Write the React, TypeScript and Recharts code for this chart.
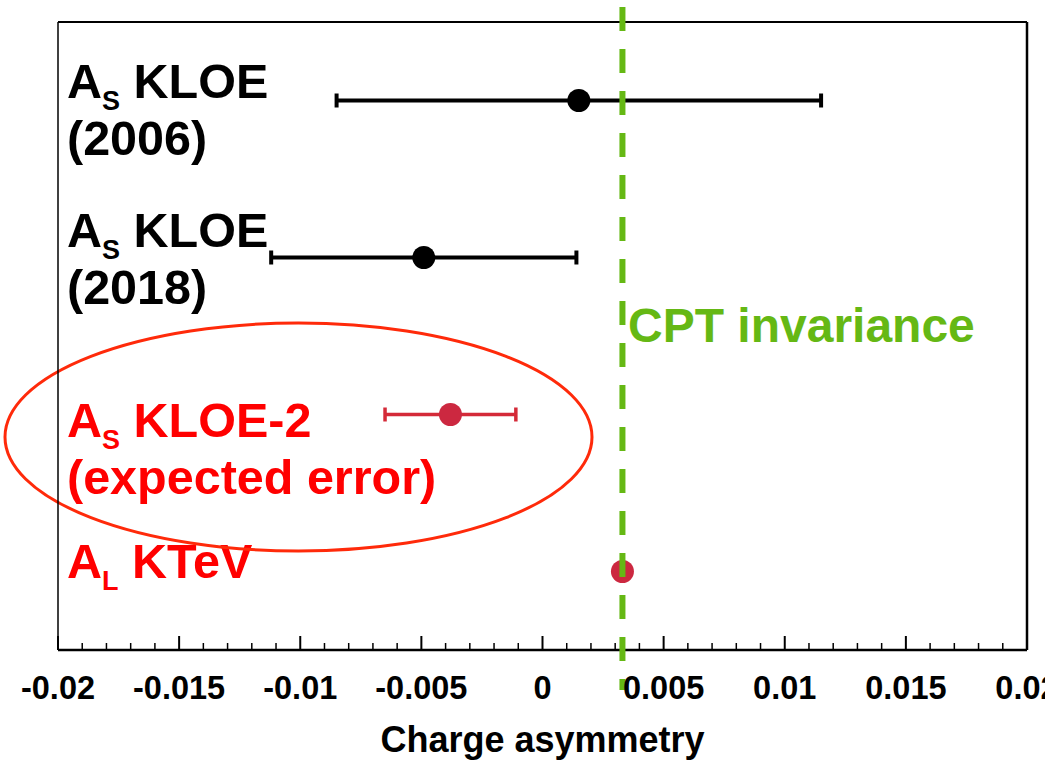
import React from 'react';
import { ComposedChart, Scatter, XAxis, YAxis, ErrorBar, ReferenceLine, Customized, Label } from 'recharts';

// ---- data ----
const rowPositions = [1, 2, 3, 4];
const kloeValues = [0.0015, -0.0049];
const kloeErrors = [0.01, 0.0063];
const kloe2Value = -0.0038;
const kloe2Error = 0.0027;
const ktevValue = 0.0033;
const cptValue = 0.0033;

const labelSymbols = ['A', 'A', 'A', 'A'];
const labelSubs = ['S', 'S', 'S', 'L'];
const labelNames = [' KLOE', ' KLOE', ' KLOE-2', ' KTeV'];
const labelSecondLines = ['(2006)', '(2018)', '(expected error)', ''];
const labelColors = ['#000000', '#000000', '#ff0000', '#ff0000'];
const xTitle = 'Charge asymmetry';
const lineTitle = 'CPT invariance';

const xTicks = [
  -0.02, -0.019, -0.018, -0.017, -0.016, -0.015, -0.014, -0.013, -0.012, -0.011,
  -0.01, -0.009, -0.008, -0.007, -0.006, -0.005, -0.004, -0.003, -0.002, -0.001,
  0, 0.001, 0.002, 0.003, 0.004, 0.005, 0.006, 0.007, 0.008, 0.009,
  0.01, 0.011, 0.012, 0.013, 0.014, 0.015, 0.016, 0.017, 0.018, 0.019, 0.02,
];
const xMajorLabels = ['-0.02', '-0.015', '-0.01', '-0.005', '0', '0.005', '0.01', '0.015', '0.02'];

const kloeData = kloeValues.map((v, i) => ({ x: v, y: rowPositions[i], err: kloeErrors[i] }));
const kloe2Data = [{ x: kloe2Value, y: rowPositions[2], err: kloe2Error }];
const ktevData = [{ x: ktevValue, y: rowPositions[3] }];

const FONT = '"Liberation Sans", Arial, Helvetica, sans-serif';
const GREEN = '#65b814';

const isMajor = (v: number) => Math.round(v * 1000) % 5 === 0;
const majorLabel = (v: number) => {
  const idx = Math.round((v + 0.02) * 200);
  return xMajorLabels[idx] ?? String(v);
};

const BottomTick = (props: any) => {
  const { x, y, payload } = props;
  const v = payload.value as number;
  const major = isMajor(v);
  return (
    <g>
      <line x1={x} x2={x} y1={y} y2={y - (major ? 14 : 7)} stroke="#000" strokeWidth={major ? 2 : 1.5} />
      {major && (
        <text x={x} y={y + 49} textAnchor="middle" fontSize={32.5} fontWeight="bold" fontFamily={FONT} fill="#000">
          {majorLabel(v)}
        </text>
      )}
    </g>
  );
};

const TopTick = (props: any) => {
  const { x, y, payload } = props;
  const v = payload.value as number;
  const major = isMajor(v);
  return <line x1={x} x2={x} y1={y} y2={y + (major ? 14 : 7)} stroke="#000" strokeWidth={major ? 2 : 1.5} />;
};

const labelBaselines = [98, 247, 437, 578];
const Annotations = () => (
  <g>
    {labelNames.map((name, i) => (
      <g key={name + i} fontFamily={FONT} fontWeight="bold" fill={labelColors[i]}>
        <text x={67} y={labelBaselines[i]} fontSize={48.5}>
          <tspan>{labelSymbols[i]}</tspan>
          <tspan fontSize={27} dy={12}>{labelSubs[i]}</tspan>
          <tspan dy={-12}>{name}</tspan>
        </text>
        {labelSecondLines[i] && (
          <text x={67} y={labelBaselines[i] + 57} fontSize={48.5}>
            {labelSecondLines[i]}
          </text>
        )}
      </g>
    ))}
    <text x={628} y={342} fontSize={48} fontWeight="bold" fontFamily={FONT} fill={GREEN}>
      {lineTitle}
    </text>
    <ellipse cx={298.5} cy={437} rx={293.5} ry={114} fill="none" stroke="#ff2a0a" strokeWidth={3} />
  </g>
);

const dot = (color: string) => (p: any) => <circle cx={p.cx} cy={p.cy} r={11.5} fill={color} />;

export default function App() {
  return (
    <div style={{ position: 'absolute', left: 0, top: 0, width: 1045, height: 762, background: '#fff' }}>
      <ComposedChart width={1045} height={762} margin={{ top: 22, right: 18, bottom: 0, left: 58 }}>
        <XAxis
          xAxisId="bottom"
          type="number"
          dataKey="x"
          orientation="bottom"
          domain={[-0.02, 0.02]}
          ticks={xTicks}
          interval={0}
          allowDataOverflow
          height={112}
          tickSize={0}
          tickMargin={0}
          tickLine={false}
          axisLine={{ stroke: '#000', strokeWidth: 2.5 }}
          tick={<BottomTick />}
        >
          <Label
            value={xTitle}
            position="insideBottom"
            offset={10}
            style={{ fontSize: 36, fontWeight: 'bold', fontFamily: FONT, fill: '#000' }}
          />
        </XAxis>
        <XAxis
          xAxisId="top"
          type="number"
          orientation="top"
          mirror
          domain={[-0.02, 0.02]}
          ticks={xTicks}
          interval={0}
          allowDataOverflow
          tickSize={0}
          tickMargin={0}
          tickLine={false}
          axisLine={{ stroke: '#000', strokeWidth: 2 }}
          tick={<TopTick />}
        />
        <YAxis
          yAxisId="right"
          type="number"
          dataKey="y"
          orientation="right"
          mirror
          reversed
          domain={[0.5, 4.5]}
          ticks={rowPositions}
          interval={0}
          allowDataOverflow
          tickSize={13}
          tick={false}
          tickLine={{ stroke: '#777', strokeWidth: 2.5 }}
          axisLine={{ stroke: '#000', strokeWidth: 2.5 }}
        />
        <YAxis
          yAxisId="left"
          type="number"
          orientation="left"
          mirror
          domain={[0.5, 4.5]}
          tick={false}
          tickLine={false}
          axisLine={{ stroke: '#000', strokeWidth: 1.5 }}
        />
        <Customized component={<Annotations />} />
        <Scatter
          xAxisId="bottom"
          yAxisId="right"
          data={kloeData}
          fill="#000"
          shape={dot('#000')}
          isAnimationActive={false}
        >
          <ErrorBar dataKey="err" direction="x" width={7} stroke="#000" strokeWidth={4} isAnimationActive={false} />
        </Scatter>
        <Scatter
          xAxisId="bottom"
          yAxisId="right"
          data={kloe2Data}
          fill="#cc2840"
          shape={dot('#cc2840')}
          isAnimationActive={false}
        >
          <ErrorBar dataKey="err" direction="x" width={7} stroke="#d42a38" strokeWidth={3.5} isAnimationActive={false} />
        </Scatter>
        <Scatter
          xAxisId="bottom"
          yAxisId="right"
          data={ktevData}
          fill="#cc2840"
          shape={dot('#cc2840')}
          isAnimationActive={false}
        />
        <ReferenceLine
          xAxisId="bottom"
          yAxisId="right"
          segment={[{ x: cptValue, y: 0.4045 }, { x: cptValue, y: 4.755 }]}
          ifOverflow="visible"
          stroke={GREEN}
          strokeWidth={6}
          strokeDasharray="24 18"
          zIndex={1000}
        />
      </ComposedChart>
    </div>
  );
}
